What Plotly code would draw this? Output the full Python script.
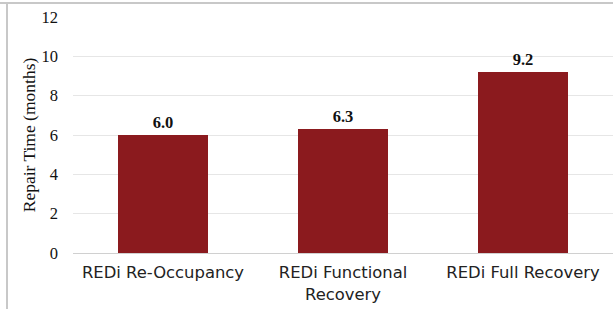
import plotly.graph_objects as go

categories = ["REDi Re-Occupancy", "REDi Functional<br>Recovery", "REDi Full Recovery"]
values = [6.0, 6.3, 9.2]
value_labels = ["6.0", "6.3", "9.2"]
y_ticks = [0, 2, 4, 6, 8, 10, 12]

bar_color = "#8B1A1E"
serif = "Liberation Serif, Times New Roman, serif"

fig = go.Figure(
    go.Bar(
        x=categories,
        y=values,
        text=value_labels,
        textposition="outside",
        textfont=dict(family=serif, size=16.5, color="#111111", weight="bold"),
        marker=dict(color=bar_color, line=dict(width=0)),
        cliponaxis=False,
    )
)

fig.update_layout(
    width=613,
    height=309,
    margin=dict(l=73, r=0, t=17, b=56),
    paper_bgcolor="white",
    plot_bgcolor="white",
    bargap=0.5,
    showlegend=False,
    shapes=[
        dict(type="line", xref="paper", yref="paper", x0=-73/540, x1=1.0, y0=1 + 14/236, y1=1 + 14/236,
             line=dict(color="#c8c8c8", width=2)),
        dict(type="line", xref="paper", yref="paper", x0=-66/540, x1=-66/540, y0=1 + 14/236, y1=-56/236,
             line=dict(color="#c8c8c8", width=2)),
    ],
)

fig.update_yaxes(
    range=[0, 12],
    tickvals=y_ticks,
    tickfont=dict(family=serif, size=16.5, color="#111111"),
    ticklabelstandoff=14,
    showgrid=True,
    gridcolor="#e6e6e6",
    gridwidth=1,
    zeroline=True,
    zerolinecolor="#d0d0d0",
    zerolinewidth=1,
    showline=False,
    title=dict(text="Repair Time (months)", font=dict(family=serif, size=17.5, color="#111111"), standoff=1),
)

fig.update_xaxes(
    tickfont=dict(family="DejaVu Sans", size=16.4, color="#222222"),
    ticklabelstandoff=8,
    showline=False,
    ticks="",
)

fig.write_html(
    "out.html",
    config={"displayModeBar": False},
    post_script="document.body.style.margin='0';",
)
